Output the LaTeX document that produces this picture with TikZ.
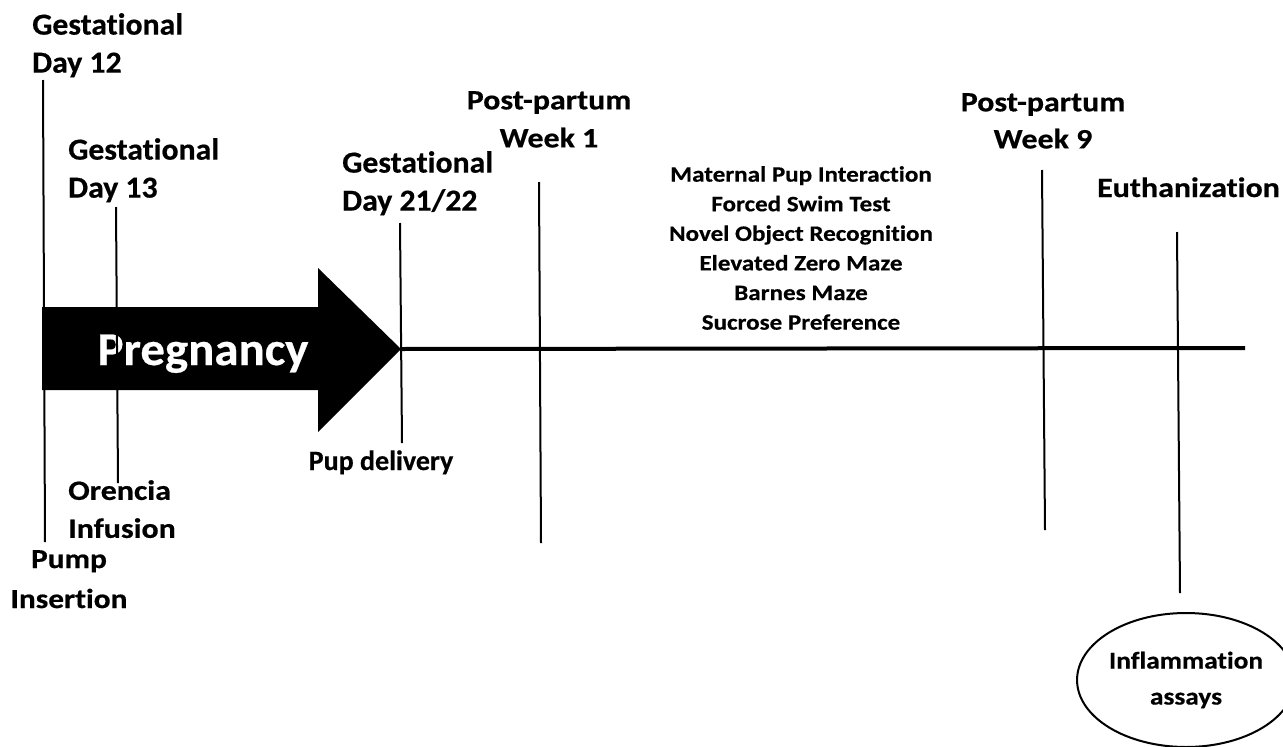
\documentclass[tikz,border=0pt]{standalone}
\usepackage{fontspec}
\setmainfont{Carlito}[Ligatures=NoCommon, BoldFeatures={FakeBold=0.5}]
\newfontfamily\calS{Carlito}[FakeStretch=1.04, Ligatures=NoCommon, BoldFeatures={FakeBold=0.5}]
\newfontfamily\calW{Carlito}[FakeStretch=1.14, Ligatures=NoCommon, BoldFeatures={FakeBold=0.5}]
\usetikzlibrary{shapes.geometric}
\begin{document}
\begin{tikzpicture}[x=1pt,y=-1pt,
  tick/.style={line width=2pt},
  gest/.style={font=\calS\fontsize{30.5}{38}\selectfont\bfseries, inner sep=0pt, align=left},
  wlab/.style={font=\calW\fontsize{28}{38}\selectfont\bfseries, inner sep=0pt},
  listtxt/.style={font=\calW\fontsize{22}{29.6}\selectfont\bfseries, inner sep=0pt, align=center}]
\useasboundingbox (0,0) rectangle (1283,747);
% pregnancy arrow
\fill (42,307) -- (318,307) -- (318,268) -- (401,349) -- (318,432) -- (318,390) -- (42,390) -- cycle;
\node[font=\calS\fontsize{47}{47}\selectfont\bfseries, text=white, inner sep=0pt, anchor=base] (preg) at (203,365) {Pregnancy};
% timeline
\coordinate (tip) at (401,349);
\coordinate (tend) at (1245,348);
\draw[line width=4pt] (tip) -- (tend);
% tick end points
\coordinate (a1) at (43,80);   \coordinate (a2) at (45,542);
\coordinate (b1) at (116,207); \coordinate (b2) at (118,483);
\coordinate (c1) at (400,223); \coordinate (c2) at (402,443);
\coordinate (d1) at (539,182); \coordinate (d2) at (541,543);
\coordinate (e1) at (1042,170); \coordinate (e2) at (1045,530);
\coordinate (f1) at (1177,232); \coordinate (f2) at (1180,593);
\draw[tick] (a1) -- (a2);
\draw[tick] (b1) -- (b2);
\draw[tick] (c1) -- (c2);
\draw[tick] (d1) -- (d2);
\draw[tick] (e1) -- (e2);
\draw[tick] (f1) -- (f2);
% labels
\node[gest, anchor=north west] (gd12) at (32,13) {Gestational\\Day 12};
\node[gest, anchor=north west] (gd13) at (68,138) {Gestational\\Day 13};
\node[gest, anchor=north west] (gd21) at (342,151) {Gestational\\Day 21/22};
\node[wlab, align=center, anchor=north] (pp1) at (549,91) {Post-partum\\Week 1};
\node[listtxt, anchor=north] (tests) at (801,166) {Maternal Pup Interaction\\Forced Swim Test\\Novel Object Recognition\\Elevated Zero Maze\\Barnes Maze\\Sucrose Preference};
\node[wlab, align=center, anchor=north, font=\calW\fontsize{28}{37}\selectfont\bfseries] (pp9) at (1043,93) {Post-partum\\Week 9};
\node[wlab, anchor=base west] (euth) at (1097,197) {Euthanization};
\node[font=\fontsize{28}{28}\selectfont\bfseries, inner sep=0pt, anchor=base] (pup) at (381,470) {Pup delivery};
\node[wlab, align=left, anchor=north west] (oren) at (68,480) {Orencia\\Infusion};
\node[wlab, align=center, anchor=north, font=\calW\fontsize{27.5}{40}\selectfont\bfseries] (pump) at (69,550) {Pump\\Insertion};
\node[draw, line width=2pt, ellipse, minimum width=208pt, minimum height=134pt, inner sep=0pt,
      font=\calW\fontsize{24}{36}\selectfont\bfseries, align=center] (infl) at (1186,680) {Inflammation\\assays};
\end{tikzpicture}
\end{document}
